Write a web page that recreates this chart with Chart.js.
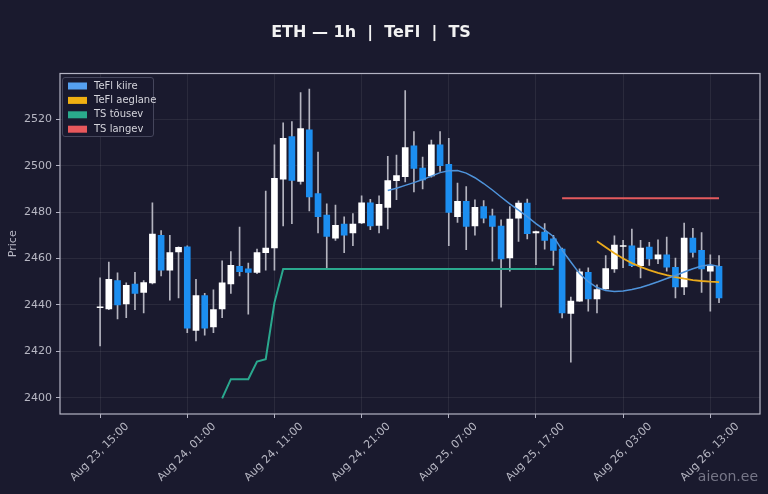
<!DOCTYPE html>
<html>
<head>
<meta charset="utf-8">
<script src="https://cdn.jsdelivr.net/npm/chart.js@4.4.1/dist/chart.umd.min.js"></script>
<style>
  html, body { margin: 0; padding: 0; background: #1a1a2e; }
  #wrap { width: 768px; height: 494px; }
</style>
</head>
<body>
<div id="wrap"><canvas id="chart"></canvas></div>
<script>
// hourly candles, index 0 = Aug 23, 15:00
const xTickPos = [0, 10, 20, 30, 40, 50, 60, 70];
const xTickLabels = [
  "Aug 23, 15:00", "Aug 24, 01:00", "Aug 24, 11:00", "Aug 24, 21:00",
  "Aug 25, 07:00", "Aug 25, 17:00", "Aug 26, 03:00", "Aug 26, 13:00"
];
const yTicks = [2400, 2420, 2440, 2460, 2480, 2500, 2520];

const opens = [
  2438.8, 2438.3, 2450.5, 2440.4, 2449.0, 2445.4, 2449.5, 2470.0, 2455.0, 2462.8,
  2465.0, 2429.0, 2444.0, 2430.5, 2438.3, 2449.0, 2456.6, 2455.5, 2454.0, 2462.5,
  2464.5, 2494.2, 2512.5, 2493.2, 2515.4, 2488.0, 2478.7, 2468.8, 2474.8, 2471.0,
  2475.3, 2484.0, 2474.3, 2482.0, 2493.5, 2495.3, 2508.5, 2498.9, 2495.6, 2509.0,
  2500.6, 2478.0, 2484.6, 2474.0, 2482.4, 2478.4, 2474.0, 2460.2, 2477.4, 2483.9,
  2471.0, 2471.4, 2468.5, 2464.0, 2436.3, 2441.6, 2454.0, 2442.6, 2446.9, 2455.5,
  2465.2, 2465.5, 2456.9, 2464.9, 2459.8, 2461.6, 2456.2, 2447.7, 2468.8, 2463.5,
  2454.5, 2456.6
];
const highs = [
  2451.7, 2458.5, 2453.8, 2449.5, 2454.0, 2450.5, 2484.0, 2472.0, 2470.0, 2465.0,
  2465.5, 2451.0, 2445.0, 2446.5, 2459.0, 2463.0, 2473.5, 2458.0, 2464.0, 2489.0,
  2509.0, 2518.5, 2519.0, 2531.5, 2533.0, 2505.8, 2483.5, 2483.0, 2478.0, 2479.3,
  2487.0, 2485.5, 2487.0, 2504.0, 2504.6, 2532.3, 2514.7, 2503.7, 2511.0, 2514.7,
  2511.8, 2492.5, 2491.0, 2485.3, 2485.0, 2481.3, 2476.7, 2482.4, 2484.8, 2485.6,
  2471.8, 2475.0, 2470.0, 2464.5, 2443.4, 2455.5, 2456.0, 2448.7, 2461.2, 2469.8,
  2467.8, 2472.7, 2467.8, 2467.0, 2468.0, 2469.2, 2460.2, 2475.3, 2473.0, 2471.2,
  2461.6, 2461.2
];
const lows = [
  2422.3, 2438.0, 2434.0, 2434.5, 2438.0, 2436.5, 2449.0, 2452.5, 2442.0, 2443.0,
  2428.0, 2424.5, 2427.0, 2428.0, 2434.5, 2445.0, 2452.5, 2436.0, 2453.5, 2455.0,
  2455.0, 2474.0, 2475.0, 2492.0, 2480.5, 2471.0, 2455.5, 2467.8, 2462.5, 2465.5,
  2475.0, 2472.4, 2471.0, 2472.7, 2485.3, 2493.0, 2488.7, 2490.0, 2495.0, 2497.5,
  2465.5, 2475.5, 2463.8, 2470.0, 2475.3, 2458.8, 2439.0, 2454.5, 2467.4, 2468.4,
  2457.3, 2464.0, 2457.0, 2434.4, 2415.3, 2441.5, 2437.3, 2436.6, 2446.8, 2454.0,
  2456.0, 2456.5, 2451.6, 2457.0, 2457.8, 2454.5, 2443.0, 2444.4, 2460.6, 2445.4,
  2437.3, 2441.0
];
const closes = [
  2439.2, 2451.0, 2440.0, 2448.4, 2445.0, 2449.6, 2470.5, 2455.0, 2462.5, 2464.8,
  2430.0, 2444.0, 2430.0, 2438.0, 2449.5, 2457.0, 2454.3, 2454.0, 2462.5, 2464.5,
  2494.5, 2511.8, 2493.6, 2516.0, 2486.5, 2478.0, 2469.5, 2474.3, 2470.0, 2474.8,
  2484.0, 2474.0, 2483.3, 2493.6, 2495.7, 2507.8, 2498.8, 2493.9, 2509.0, 2500.0,
  2479.8, 2484.6, 2473.8, 2482.0, 2477.4, 2473.8, 2459.8, 2477.0, 2483.9, 2470.7,
  2471.6, 2467.8, 2463.5, 2436.6, 2441.6, 2454.2, 2442.6, 2446.6, 2455.7, 2465.8,
  2465.6, 2456.9, 2464.5, 2459.8, 2461.6, 2456.3, 2447.7, 2468.8, 2462.6, 2455.5,
  2456.9, 2443.0
];

// indicator lines, null where not drawn
const N = null;
const tefiFast = [
  N, N, N, N, N, N, N, N, N, N, N, N, N, N, N, N, N, N, N, N,
  N, N, N, N, N, N, N, N, N, N, N, N, N,
  2489.3, 2490.3, 2491.5, 2492.7, 2494.0, 2495.5, 2497.0, 2497.8, 2497.9, 2496.8,
  2494.8, 2492.3, 2489.5, 2486.5, 2483.5, 2480.8, 2478.0, 2475.0, 2472.3, 2469.5,
  2463.6, 2458.5, 2453.5, 2450.0, 2447.5, 2446.2, 2445.8, 2446.0, 2446.6, 2447.5,
  2448.7, 2450.0, 2451.4, 2452.7, 2454.2, 2455.6, 2456.8, 2457.3, 2456.6
];
const tefiSlow = [
  N, N, N, N, N, N, N, N, N, N, N, N, N, N, N, N, N, N, N, N,
  N, N, N, N, N, N, N, N, N, N, N, N, N, N, N, N, N, N, N, N,
  N, N, N, N, N, N, N, N, N, N, N, N, N, N, N, N, N,
  2467.4, 2464.8, 2462.3, 2460.0, 2458.0, 2456.4, 2455.0, 2453.8, 2452.8, 2452.0,
  2451.3, 2450.7, 2450.3, 2450.0, 2449.8
];
const tsUp = [
  N, N, N, N, N, N, N, N, N, N, N, N, N, N,
  2399.7, 2408.0, 2408.0, 2408.0, 2415.6, 2416.6, 2441.0, 2455.5, 2455.5, 2455.5,
  2455.5, 2455.5, 2455.5, 2455.5, 2455.5, 2455.5, 2455.5, 2455.5, 2455.5, 2455.5,
  2455.5, 2455.5, 2455.5, 2455.5, 2455.5, 2455.5, 2455.5, 2455.5, 2455.5, 2455.5,
  2455.5, 2455.5, 2455.5, 2455.5, 2455.5, 2455.5, 2455.5, 2455.5, 2455.5
];
const tsDown = [
  N, N, N, N, N, N, N, N, N, N, N, N, N, N, N, N, N, N, N, N,
  N, N, N, N, N, N, N, N, N, N, N, N, N, N, N, N, N, N, N, N,
  N, N, N, N, N, N, N, N, N, N, N, N, N,
  2486.0, 2486.0, 2486.0, 2486.0, 2486.0, 2486.0, 2486.0, 2486.0, 2486.0, 2486.0,
  2486.0, 2486.0, 2486.0, 2486.0, 2486.0, 2486.0, 2486.0, 2486.0, 2486.0
];

const UP = "#ffffff";
const DOWN = "#1c8ef0";
const WICK = "#b4b4bf";
const TEXT = "#b8b8c4";
const GRID = "rgba(255,255,255,0.07)";
const FRAME = "#b4b4c4";
const FONT = "'DejaVu Sans', sans-serif";

function pts(arr) {
  const out = [];
  arr.forEach((v, i) => { if (v !== null) out.push({ x: i, y: v }); });
  return out;
}

const isUp = closes.map((c, i) => c >= opens[i]);
const wickData = highs.map((h, i) => ({ x: i, y: [lows[i], h] }));
const bodyData = opens.map((o, i) => ({ x: i, y: [o, closes[i]] }));

function lineSet(label, arr, color, width) {
  return {
    type: "line",
    label,
    data: pts(arr),
    borderColor: color,
    backgroundColor: color,
    borderWidth: width,
    pointRadius: 0,
    tension: 0,
    order: 0
  };
}

const overlay = {
  id: "overlay",
  afterDraw(chart) {
    const { ctx, chartArea: a } = chart;
    ctx.save();
    ctx.strokeStyle = FRAME;
    ctx.lineWidth = 1.2;
    ctx.strokeRect(a.left, a.top, a.right - a.left, a.bottom - a.top);

    // title
    ctx.fillStyle = "#f2f2f2";
    ctx.font = "bold 16px " + FONT;
    ctx.textAlign = "center";
    ctx.textBaseline = "middle";
    ctx.fillText("ETH — 1h  |  TeFl  |  TS", 371, 33);

    // legend box
    const lines = chart.data.datasets.filter(d => d.type === "line");
    ctx.fillStyle = "rgba(26,26,46,0.85)";
    ctx.strokeStyle = "#45465c";
    ctx.lineWidth = 1;
    ctx.beginPath();
    ctx.roundRect(62.5, 77.5, 91, 59, 2.5);
    ctx.fill();
    ctx.stroke();
    ctx.font = "10px " + FONT;
    ctx.textAlign = "left";
    lines.forEach((d, i) => {
      const y = 86 + i * 14.4;
      ctx.fillStyle = d.legendColor;
      ctx.fillRect(68, y - 3.5, 19, 7);
      ctx.fillStyle = "#d4d4dc";
      ctx.fillText(d.label, 94, y);
    });

    // watermark
    ctx.fillStyle = "rgba(150,150,165,0.75)";
    ctx.font = "14px " + FONT;
    ctx.textAlign = "right";
    ctx.fillText("aieon.ee", 758, 477);
    ctx.restore();
  }
};

const fast = lineSet("TeFl kiire", tefiFast, "#4f94dc", 1.5);
fast.legendColor = "#55a0f0";
const slow = lineSet("TeFl aeglane", tefiSlow, "#eaaa1c", 1.8);
slow.legendColor = "#f0b012";
const up = lineSet("TS tõusev", tsUp, "#2aa88e", 2);
up.legendColor = "#2aaa8c";
const down = lineSet("TS langev", tsDown, "#e45a5e", 2);
down.legendColor = "#e8585c";

new Chart(document.getElementById("chart"), {
  type: "bar",
  data: {
    datasets: [
      fast, slow, up, down,
      {
        label: "body",
        data: bodyData,
        backgroundColor: isUp.map(u => u ? UP : DOWN),
        borderWidth: 0,
        barThickness: 6,
        grouped: false,
        order: 1
      },
      {
        label: "wick",
        data: wickData,
        backgroundColor: WICK,
        borderWidth: 0,
        barThickness: 1,
        grouped: false,
        order: 2
      }
    ]
  },
  options: {
    responsive: true,
    maintainAspectRatio: false,
    animation: false,
    layout: { padding: { top: 73.5, right: 8, bottom: 0, left: 0 } },
    plugins: {
      legend: { display: false },
      tooltip: { enabled: false },
      title: { display: false }
    },
    scales: {
      x: {
        type: "linear",
        min: -4.6,
        max: 75.7,
        offset: false,
        afterBuildTicks: s => { s.ticks = xTickPos.map(v => ({ value: v })); },
        afterFit: s => { s.height = 80; s.paddingLeft = 0; s.paddingRight = 0; },
        ticks: {
          autoSkip: false,
          minRotation: 45,
          maxRotation: 45,
          labelOffset: 27,
          padding: 2,
          color: TEXT,
          font: { family: FONT, size: 11 },
          callback: v => xTickLabels[xTickPos.indexOf(v)]
        },
        grid: { color: GRID, tickColor: FRAME, tickLength: 4, offset: false },
        border: { display: false }
      },
      y: {
        min: 2393,
        max: 2539.7,
        afterBuildTicks: s => { s.ticks = yTicks.map(v => ({ value: v })); },
        afterFit: s => { s.width = 60; },
        ticks: {
          padding: 4,
          color: TEXT,
          font: { family: FONT, size: 11 },
          callback: v => String(v)
        },
        grid: { color: GRID, tickColor: FRAME, tickLength: 4 },
        border: { display: false },
        title: {
          display: true,
          text: "Price",
          color: TEXT,
          font: { family: FONT, size: 11 },
          padding: { top: 7, bottom: 0 }
        }
      }
    }
  },
  plugins: [overlay]
});
</script>
</body>
</html>
